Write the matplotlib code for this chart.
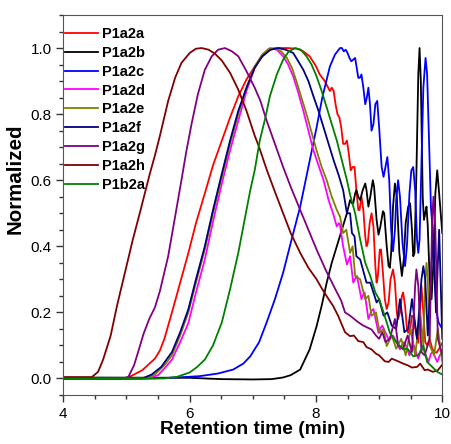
import numpy as np
import matplotlib
matplotlib.use("Agg")
import matplotlib.pyplot as plt
from matplotlib.ticker import MultipleLocator, FormatStrFormatter

plt.rcParams['font.family'] = ['Liberation Sans', 'DejaVu Sans']

# Retention time (min) and normalized signal
t_a = [4.0, 5.0, 5.1, 5.25, 5.45, 5.53, 5.6, 5.72, 5.85, 5.98, 6.1, 6.24, 6.37, 6.51, 6.64, 6.77, 6.9,
       7.03, 7.15, 7.27, 7.4, 7.55, 7.7, 7.8, 7.9, 8.0, 8.06, 8.14, 8.22, 8.25, 8.28, 8.31, 8.34, 8.37,
       8.4, 8.43, 8.46, 8.49, 8.52, 8.55, 8.58, 8.61, 8.64, 8.67, 8.69, 8.72, 8.75, 8.78, 8.8, 8.82, 8.85,
       8.88, 8.91, 8.94, 8.96, 8.98, 9.01, 9.03, 9.06, 9.09, 9.12, 9.15, 9.18, 9.22, 9.25, 9.28, 9.3,
       9.33, 9.36, 9.38, 9.41, 9.44, 9.46, 9.49, 9.52, 9.55, 9.58, 9.62, 9.645, 9.67, 9.7, 9.73, 9.76,
       9.8, 9.84, 9.88, 9.91, 9.95, 10.0]
v_a = [0.0, 0.0, 0.01, 0.025, 0.06, 0.085, 0.12, 0.2, 0.29, 0.38, 0.47, 0.56, 0.645, 0.72, 0.79, 0.854,
       0.905, 0.944, 0.975, 0.995, 1.0, 1.0, 0.998, 0.99, 0.975, 0.945, 0.92, 0.9, 0.87, 0.88, 0.87, 0.83,
       0.8, 0.79, 0.76, 0.71, 0.71, 0.72, 0.68, 0.63, 0.64, 0.64, 0.57, 0.51, 0.51, 0.55, 0.51, 0.43, 0.4,
       0.41, 0.47, 0.5, 0.46, 0.34, 0.29, 0.31, 0.39, 0.39, 0.32, 0.24, 0.21, 0.23, 0.3, 0.33, 0.29, 0.2,
       0.18, 0.2, 0.25, 0.26, 0.22, 0.15, 0.138, 0.15, 0.19, 0.185, 0.14, 0.108, 0.2, 0.28, 0.2, 0.11,
       0.1, 0.12, 0.09, 0.08, 0.078, 0.09, 0.108]

t_b = [4.0, 6.0, 6.5, 7.0, 7.3, 7.48, 7.6, 7.75, 7.9, 8.01, 8.09, 8.17, 8.25, 8.33, 8.41, 8.49, 8.54,
       8.57, 8.59, 8.62, 8.64, 8.67, 8.7, 8.74, 8.78, 8.8, 8.83, 8.86, 8.9, 8.92, 8.96, 8.99, 9.02, 9.06,
       9.08, 9.12, 9.15, 9.17, 9.19, 9.22, 9.25, 9.28, 9.32, 9.36, 9.39, 9.42, 9.46, 9.49, 9.52, 9.54,
       9.56, 9.59, 9.62, 9.64, 9.66, 9.69, 9.71, 9.73, 9.75, 9.77, 9.8, 9.83, 9.86, 9.89, 9.92, 9.95,
       10.0]
v_b = [0.003, 0.002, -0.002, -0.003, -0.002, 0.003, 0.01, 0.027, 0.088, 0.158, 0.22, 0.29, 0.35, 0.4,
       0.45, 0.5, 0.54, 0.53, 0.53, 0.56, 0.57, 0.55, 0.54, 0.57, 0.59, 0.57, 0.52, 0.55, 0.6, 0.58, 0.48,
       0.435, 0.46, 0.506, 0.5, 0.4, 0.34, 0.335, 0.38, 0.52, 0.59, 0.55, 0.38, 0.31, 0.36, 0.47, 0.52,
       0.53, 0.45, 0.37, 0.38, 0.62, 0.92, 1.0, 0.9, 0.55, 0.48, 0.5, 0.52, 0.46, 0.3, 0.24, 0.35, 0.56,
       0.63, 0.56, 0.44]

t_c = [4.0, 5.4, 5.8, 6.16, 6.45, 6.69, 6.85, 6.96, 7.1, 7.22, 7.35, 7.48, 7.6, 7.75, 7.88, 8.01, 8.1,
       8.22, 8.3, 8.38, 8.41, 8.44, 8.47, 8.5, 8.53, 8.56, 8.59, 8.62, 8.645, 8.67, 8.695, 8.72, 8.75,
       8.78, 8.805, 8.83, 8.855, 8.88, 8.91, 8.94, 8.97, 9.0, 9.04, 9.07, 9.1, 9.13, 9.16, 9.19, 9.22,
       9.25, 9.27, 9.3, 9.33, 9.37, 9.41, 9.44, 9.48, 9.51, 9.54, 9.57, 9.6, 9.62, 9.64, 9.67, 9.7, 9.735,
       9.76, 9.79, 9.82, 9.85, 9.88, 9.91, 9.94, 9.97, 10.0]
v_c = [0.0, 0.0, 0.003, 0.007, 0.015, 0.027, 0.045, 0.067, 0.11, 0.17, 0.24, 0.32, 0.41, 0.52, 0.64,
       0.76, 0.85, 0.944, 0.98, 1.0, 1.0, 0.99, 0.995, 0.985, 0.97, 0.96, 0.965, 0.97, 0.94, 0.91, 0.91,
       0.92, 0.88, 0.83, 0.85, 0.88, 0.83, 0.75, 0.77, 0.83, 0.84, 0.76, 0.64, 0.61, 0.64, 0.67, 0.6,
       0.45, 0.385, 0.45, 0.54, 0.6, 0.55, 0.41, 0.34, 0.4, 0.56, 0.63, 0.64, 0.57, 0.42, 0.38, 0.42,
       0.65, 0.88, 0.97, 0.92, 0.72, 0.52, 0.44, 0.3, 0.2, 0.17, 0.16, 0.15]

t_d = [4.0, 5.35, 5.5, 5.6, 5.72, 5.85, 5.98, 6.1, 6.24, 6.37, 6.51, 6.64, 6.77, 6.9, 7.03, 7.15, 7.27,
       7.38, 7.48, 7.56, 7.64, 7.72, 7.8, 7.88, 7.96, 8.04, 8.12, 8.2, 8.27, 8.33, 8.36, 8.38, 8.43, 8.49,
       8.52, 8.54, 8.59, 8.63, 8.65, 8.72, 8.75, 8.77, 8.83, 8.88, 8.91, 8.99, 9.03, 9.05, 9.15, 9.19,
       9.22, 9.33, 9.37, 9.4, 9.48, 9.52, 9.55, 9.62, 9.66, 9.7, 9.78, 9.82, 9.85, 9.92, 9.96, 10.0]
v_d = [0.0, 0.0, 0.01, 0.03, 0.057, 0.11, 0.168, 0.26, 0.36, 0.475, 0.59, 0.69, 0.78, 0.87, 0.94, 0.98,
       1.0, 0.995, 0.975, 0.95, 0.914, 0.865, 0.81, 0.75, 0.69, 0.645, 0.6, 0.54, 0.5, 0.46, 0.47, 0.465,
       0.4, 0.345, 0.36, 0.37, 0.29, 0.305, 0.31, 0.24, 0.255, 0.26, 0.18, 0.205, 0.21, 0.138, 0.155, 0.16,
       0.118, 0.128, 0.13, 0.088, 0.105, 0.11, 0.07, 0.095, 0.1, 0.06, 0.085, 0.09, 0.05, 0.075, 0.08, 0.05,
       0.07, 0.078]

t_e = [4.0, 5.3, 5.45, 5.6, 5.72, 5.85, 5.98, 6.1, 6.24, 6.37, 6.51, 6.64, 6.77, 6.9, 7.03, 7.15, 7.25,
       7.35, 7.45, 7.54, 7.62, 7.69, 7.77, 7.85, 7.93, 8.01, 8.09, 8.17, 8.25, 8.33, 8.38, 8.43, 8.48,
       8.54, 8.58, 8.62, 8.7, 8.78, 8.83, 8.88, 8.95, 9.01, 9.07, 9.12, 9.2, 9.27, 9.35, 9.42, 9.5, 9.57,
       9.65, 9.7, 9.73, 9.75, 9.77, 9.8, 9.87, 9.93, 10.0]
v_e = [0.0, 0.0, 0.012, 0.04, 0.07, 0.13, 0.2, 0.29, 0.39, 0.5, 0.61, 0.71, 0.8, 0.88, 0.945, 0.98,
       0.997, 1.0, 0.99, 0.97, 0.94, 0.9, 0.85, 0.8, 0.745, 0.69, 0.64, 0.6, 0.55, 0.51, 0.49, 0.44, 0.45,
       0.38, 0.4, 0.31, 0.3, 0.24, 0.25, 0.19, 0.2, 0.138, 0.15, 0.098, 0.13, 0.09, 0.12, 0.07, 0.15, 0.07,
       0.2, 0.1, 0.3, 0.35, 0.3, 0.1, 0.07, 0.15, 0.05]

t_f = [4.0, 5.25, 5.4, 5.55, 5.72, 5.85, 5.98, 6.1, 6.24, 6.37, 6.51, 6.64, 6.77, 6.9, 7.03, 7.15, 7.28,
       7.4, 7.52, 7.64, 7.72, 7.8, 7.88, 7.96, 8.04, 8.12, 8.2, 8.28, 8.36, 8.43, 8.49, 8.54, 8.57, 8.61,
       8.64, 8.7, 8.8, 8.86, 8.96, 9.0, 9.07, 9.13, 9.2, 9.27, 9.33, 9.4, 9.46, 9.52, 9.6, 9.67, 9.7,
       9.73, 9.77, 9.84, 9.86, 9.9, 9.95, 10.0]
v_f = [0.0, 0.0, 0.012, 0.035, 0.08, 0.14, 0.21, 0.3, 0.4, 0.51, 0.62, 0.72, 0.81, 0.88, 0.94, 0.975,
       0.995, 1.0, 0.995, 0.985, 0.96, 0.934, 0.9, 0.854, 0.81, 0.76, 0.71, 0.66, 0.615, 0.57, 0.5, 0.5,
       0.44, 0.43, 0.37, 0.36, 0.29, 0.29, 0.23, 0.24, 0.19, 0.2, 0.16, 0.15, 0.24, 0.14, 0.15, 0.24, 0.12,
       0.3, 0.34, 0.3, 0.13, 0.38, 0.42, 0.2, 0.45, 0.12]

t_g = [4.0, 4.95, 5.03, 5.12, 5.2, 5.27, 5.36, 5.45, 5.53, 5.66, 5.77, 5.87, 5.95, 6.03, 6.13, 6.24,
       6.35, 6.45, 6.56, 6.67, 6.77, 6.9, 7.03, 7.12, 7.22, 7.35, 7.48, 7.6, 7.75, 7.88, 8.01, 8.15, 8.28,
       8.4, 8.46, 8.54, 8.67, 8.75, 8.88, 8.95, 9.0, 9.05, 9.1, 9.17, 9.25, 9.3, 9.38, 9.45, 9.52, 9.57,
       9.59, 9.62, 9.67, 9.72, 9.8, 9.84, 9.86, 9.89, 9.93, 10.0]
v_g = [0.0, 0.0, 0.005, 0.04, 0.09, 0.135, 0.18, 0.215, 0.265, 0.37, 0.49, 0.6, 0.69, 0.77, 0.86, 0.934,
       0.975, 0.995, 1.0, 0.99, 0.975, 0.93, 0.88, 0.84, 0.78, 0.71, 0.64, 0.58, 0.51, 0.45, 0.39, 0.33,
       0.28, 0.235, 0.2, 0.19, 0.17, 0.16, 0.148, 0.13, 0.12, 0.14, 0.11, 0.12, 0.18, 0.1, 0.09, 0.13,
       0.08, 0.28, 0.33, 0.28, 0.08, 0.07, 0.12, 0.48, 0.55, 0.45, 0.12, 0.07]

t_h = [4.0, 4.45, 4.55, 4.63, 4.75, 4.85, 5.0, 5.1, 5.21, 5.37, 5.45, 5.53, 5.66, 5.77, 5.87, 6.0, 6.1,
       6.19, 6.3, 6.4, 6.51, 6.64, 6.77, 6.9, 7.03, 7.1, 7.22, 7.35, 7.48, 7.6, 7.75, 7.88, 8.01, 8.1, 8.2,
       8.27, 8.35, 8.46, 8.54, 8.6, 8.67, 8.75, 8.8, 8.88, 8.95, 9.0, 9.09, 9.15, 9.2, 9.3, 9.38, 9.45,
       9.52, 9.6, 9.65, 9.72, 9.77, 9.85, 9.93, 10.0]
v_h = [0.004, 0.004, 0.02, 0.057, 0.13, 0.22, 0.34, 0.42, 0.5, 0.62, 0.675, 0.735, 0.84, 0.91, 0.955,
       0.985, 0.998, 1.0, 0.995, 0.983, 0.962, 0.925, 0.874, 0.81, 0.735, 0.7, 0.632, 0.565, 0.5, 0.44,
       0.38, 0.335, 0.3, 0.27, 0.24, 0.22, 0.19, 0.14, 0.128, 0.13, 0.113, 0.11, 0.095, 0.088, 0.075,
       0.07, 0.052, 0.05, 0.06, 0.052, 0.045, 0.04, 0.033, 0.035, 0.045, 0.025, 0.027, 0.02, 0.025, 0.042]

t_i = [4.0, 5.6, 5.8, 6.0, 6.12, 6.24, 6.37, 6.51, 6.64, 6.77, 6.9, 6.96, 7.03, 7.11, 7.2, 7.27, 7.38,
       7.48, 7.57, 7.67, 7.76, 7.85, 7.93, 8.01, 8.09, 8.17, 8.25, 8.33, 8.41, 8.49, 8.54, 8.62, 8.7, 8.78,
       8.86, 8.94, 9.0, 9.07, 9.17, 9.27, 9.38, 9.45, 9.54, 9.62, 9.7, 9.76, 9.83, 9.92, 10.0]
v_i = [0.0, 0.0, 0.005, 0.018, 0.035, 0.057, 0.1, 0.17, 0.27, 0.38, 0.51, 0.57, 0.63, 0.72, 0.79, 0.854,
       0.92, 0.965, 0.99, 1.0, 0.995, 0.975, 0.95, 0.914, 0.87, 0.82, 0.77, 0.72, 0.66, 0.6, 0.556, 0.5,
       0.42, 0.35, 0.31, 0.26, 0.24, 0.2, 0.138, 0.11, 0.088, 0.09, 0.067, 0.07, 0.1, 0.05, 0.037, 0.02,
       0.012]

names = ['P1a2a', 'P1a2b', 'P1a2c', 'P1a2d', 'P1a2e', 'P1a2f', 'P1a2g', 'P1a2h', 'P1b2a']
colors = ['#ff0000', '#000000', '#0000ff', '#ff00ff', '#808000', '#000080', '#800080', '#800000', '#008000']
series = [(t_a, v_a), (t_b, v_b), (t_c, v_c), (t_d, v_d), (t_e, v_e),
          (t_f, v_f), (t_g, v_g), (t_h, v_h), (t_i, v_i)]

fig = plt.figure(figsize=(4.51, 4.44), dpi=100)
ax = fig.add_axes([0.1404, 0.1104, 0.8403, 0.8558])

for (t, v), name, c in zip(series, names, colors):
    ax.plot(t, v, color=c, lw=1.3, label=name, solid_joinstyle='round')

ax.set_xlim(4, 10)
ax.set_ylim(-0.05, 1.1)
ax.xaxis.set_major_locator(MultipleLocator(2))
ax.xaxis.set_minor_locator(MultipleLocator(0.5))
ax.yaxis.set_major_locator(MultipleLocator(0.2))
ax.yaxis.set_minor_locator(MultipleLocator(0.05))
ax.yaxis.set_major_formatter(FormatStrFormatter('%.1f'))
ax.tick_params(which='major', direction='out', length=5, width=1, labelsize=11, colors='#333333',
               labelcolor='black')
ax.tick_params(which='minor', direction='out', length=3, width=1, colors='#333333')
for s in ax.spines.values():
    s.set_color('#555555')

ax.set_xlabel('Retention time (min)', fontsize=13.8, fontweight='bold', labelpad=0)
ax.set_ylabel('Normalized', fontsize=14.8, fontweight='bold')
ax.yaxis.set_label_coords(-0.101, 0.568)

ax.legend(loc='upper left', bbox_to_anchor=(0.0, 0.972), frameon=False,
          prop={'weight': 'bold', 'size': 10.5}, handlelength=2.25, handletextpad=0.3,
          labelspacing=0.33, borderaxespad=0, borderpad=0.1)

fig.savefig('out.png', dpi=100)
